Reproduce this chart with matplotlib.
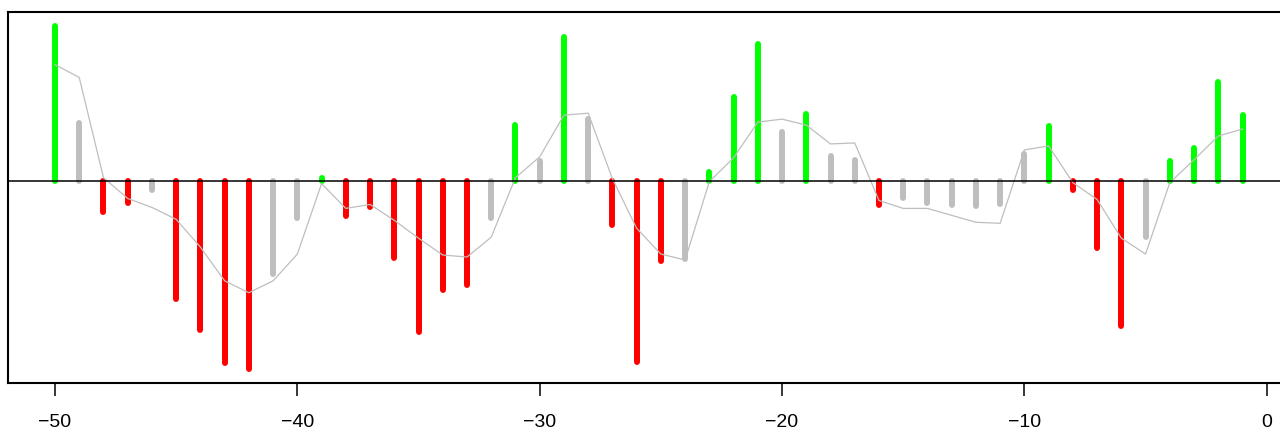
import numpy as np
import matplotlib
matplotlib.use("Agg")
import matplotlib.pyplot as plt

# lags and values (arbitrary units)
lags = np.arange(-50, 0)
values = [156, 58, -32, -23, -9, -119, -151, -184, -190, -94,
          -38, 3, -36, -27, -78, -153, -110, -105, -38, 56,
          20, 145, 62, -45, -183, -81, -79, 9, 84, 138,
          49, 67, 25, 21, -25, -18, -23, -25, -26, -24,
          27, 55, -9, -68, -147, -57, 20, 33, 99, 66]
smooth = [117, 104, 3, -18, -27, -39, -67, -101, -113, -101,
          -74, -3, -28, -24, -40, -58, -75, -77, -57, 3,
          24, 66, 68, 2, -48, -74, -80, -1, 23, 59,
          62, 56, 37, 38, -20, -28, -28, -35, -42, -43,
          31, 35, -2, -19, -58, -74, -2, 21, 45, 52]
xticks = [-50, -40, -30, -20, -10, 0]

plt.rcParams["font.family"] = ["Liberation Sans", "DejaVu Sans"]

vals = np.array(values)
sm = np.array(smooth)
colors = np.where((vals > 0) & (vals > sm), "#00FF00",
                  np.where((vals < 0) & (vals < sm), "#FF0000", "#BEBEBE"))

fig = plt.figure(figsize=(12.8, 4.3), dpi=100)
# axes runs a bit past the right edge of the figure, as in the reference
left, right = 7.5 / 1280, 1290 / 1280
bottom, top = 1 - 383 / 430, 1 - 12 / 430
ax = fig.add_axes([left, bottom, right - left, top - bottom])

ax.vlines(lags, 0, vals, colors=colors, linewidth=4.3, capstyle="round")
ax.plot(lags, sm, color="#BEBEBE", linewidth=0.9)
ax.axhline(0, color="black", linewidth=1.1)

ax.set_xlim(-51.96, 0.96)
ax.set_ylim(-204, 170)
ax.set_xticks(xticks)
ax.set_xticklabels([f"\u2212{abs(t)}" if t < 0 else str(t) for t in xticks])
ax.tick_params(axis="x", length=9.5, width=1.1, pad=13, labelsize=14)
ax.set_yticks([])
for s in ax.spines.values():
    s.set_linewidth(1.5)

fig.savefig("out.png", dpi=100)
